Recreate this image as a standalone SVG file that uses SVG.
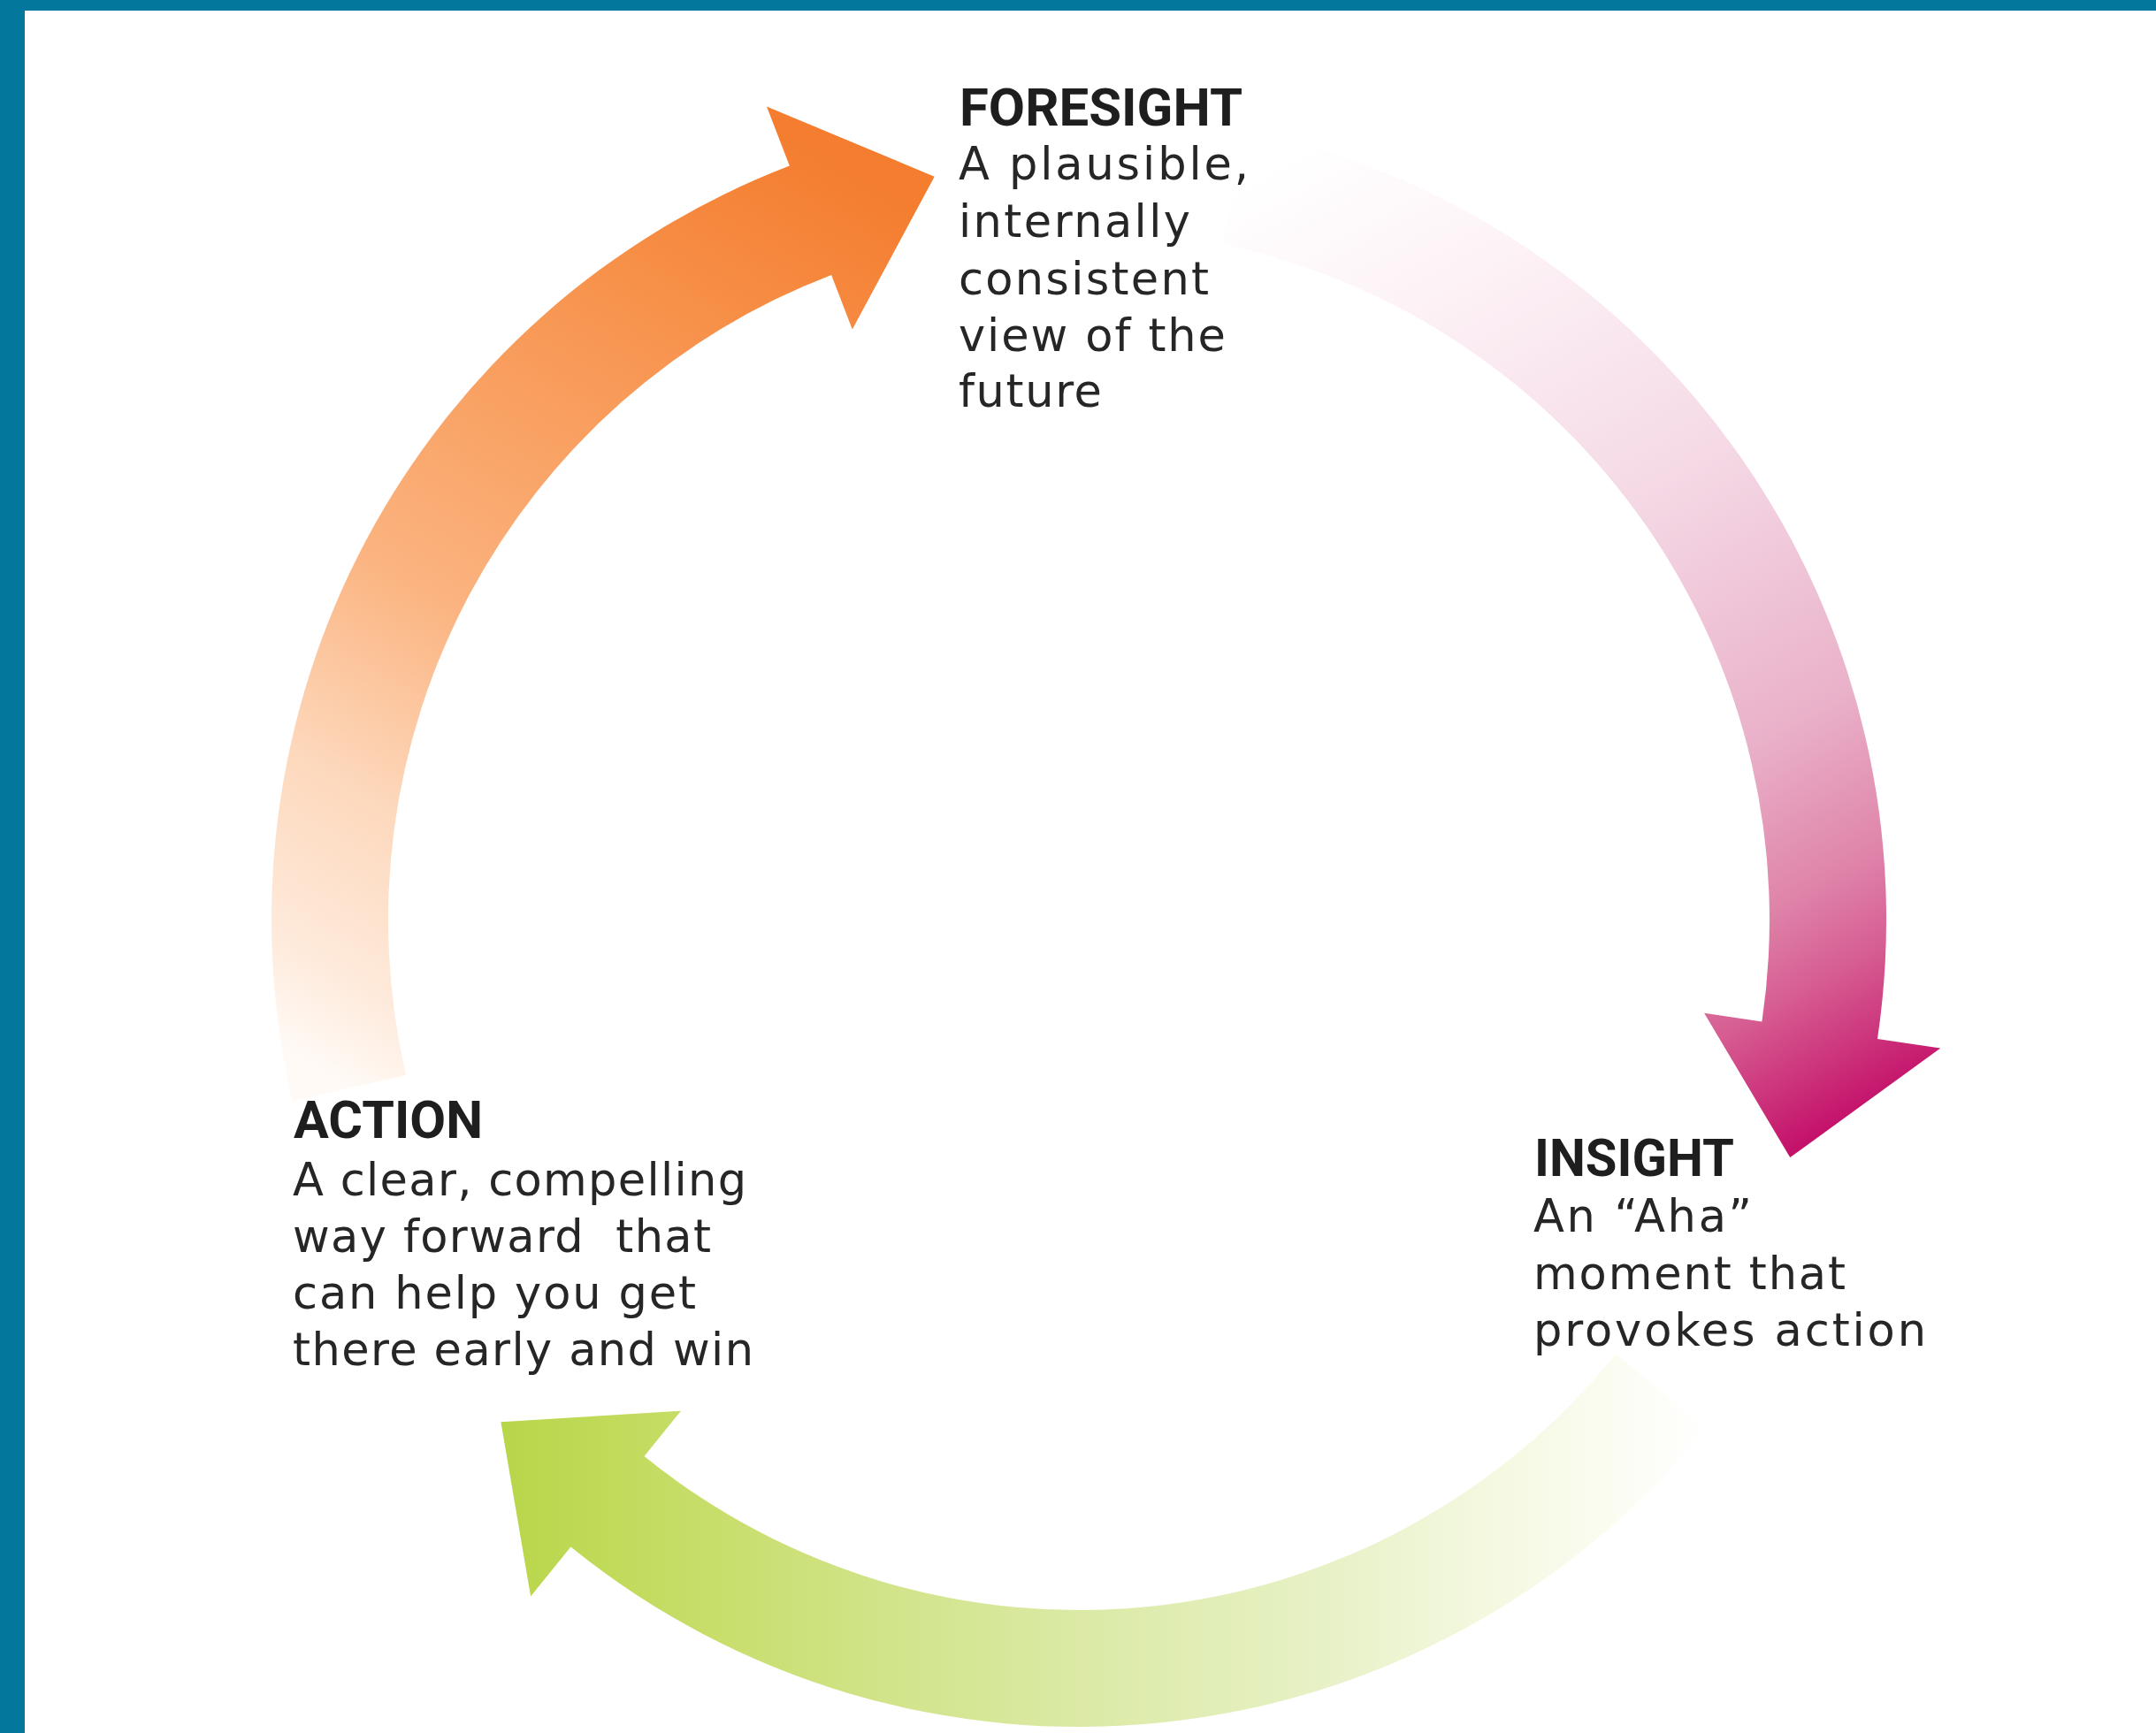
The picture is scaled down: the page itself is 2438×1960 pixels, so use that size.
<svg xmlns="http://www.w3.org/2000/svg" width="2438" height="1960" viewBox="0 0 2438 1960">
  <defs>
    <style>
      .title { font-family: Roboto, "Liberation Sans", Arial, sans-serif; font-weight: 700; font-size: 60px; fill: #1e1e1e; }
      .body { font-family: "DejaVu Sans", "Open Sans", sans-serif; font-weight: 400; font-size: 51px; fill: #262626; }
    </style>
    <linearGradient id="gOrange" gradientUnits="userSpaceOnUse" x1="395" y1="1230" x2="1000" y2="215">
      <stop offset="0" stop-color="#FFFAF6"/>
      <stop offset="0.09" stop-color="#FEEADB"/>
      <stop offset="0.25" stop-color="#FDD8BC"/>
      <stop offset="0.45" stop-color="#FBB37F"/>
      <stop offset="0.8" stop-color="#F7914A"/>
      <stop offset="1" stop-color="#F47D2F"/>
    </linearGradient>
    <linearGradient id="gPink" gradientUnits="userSpaceOnUse" x1="1420" y1="200" x2="2030" y2="1300">
      <stop offset="0" stop-color="#FFFFFF"/>
      <stop offset="0.16" stop-color="#FDF3F7"/>
      <stop offset="0.41" stop-color="#F5DAE6"/>
      <stop offset="0.66" stop-color="#EAB2CA"/>
      <stop offset="0.8" stop-color="#DF84AA"/>
      <stop offset="0.88" stop-color="#D65C91"/>
      <stop offset="1" stop-color="#C4116A"/>
    </linearGradient>
    <linearGradient id="gGreen" gradientUnits="userSpaceOnUse" x1="1930" y1="1700" x2="570" y2="1700">
      <stop offset="0" stop-color="#FFFFFF"/>
      <stop offset="0.17" stop-color="#F5F9E2"/>
      <stop offset="0.32" stop-color="#E7F1C6"/>
      <stop offset="0.54" stop-color="#DAE9A2"/>
      <stop offset="0.68" stop-color="#D1E48A"/>
      <stop offset="0.9" stop-color="#C2DB5C"/>
      <stop offset="1" stop-color="#B8D64A"/>
    </linearGradient>
  </defs>

  <rect x="0" y="0" width="2438" height="1960" fill="#FFFFFF"/>
  <g id="frame" fill="#04789C">
    <rect x="0" y="0" width="2438" height="12"/>
    <rect x="0" y="0" width="28" height="1960"/>
  </g>

  <g id="connectors">
    <path id="arrow-action-foresight" fill="url(#gOrange)" d="M330.4,1245.4 A913,913 0 0 1 892.8,187.6 L867.0,120.4 L1056.7,199.7 L963.8,372.5 L940.1,310.9 A781,781 0 0 0 459.0,1215.7 Z"/>
    <path id="arrow-foresight-insight" fill="url(#gPink)" d="M1409.8,147.0 A913,913 0 0 1 2123.0,1175.0 L2194.2,1185.6 L2024.2,1309.1 L1927.1,1145.7 L1992.4,1155.4 A781,781 0 0 0 1382.4,276.1 Z"/>
    <path id="arrow-insight-action" fill="url(#gGreen)" d="M1929.5,1614.6 A913,913 0 0 1 645.4,1749.5 L600.1,1805.5 L566.4,1608.2 L770.0,1595.7 L728.5,1647.0 A781,781 0 0 0 1827.0,1531.5 Z"/>
  </g>

  <g id="foresight">
    <text class="title" x="1085" y="142" textLength="320" lengthAdjust="spacingAndGlyphs">FORESIGHT</text>
    <text class="body" x="1084" y="203" textLength="328" lengthAdjust="spacing">A plausible,</text>
    <text class="body" x="1084" y="268" textLength="262" lengthAdjust="spacing">internally</text>
    <text class="body" x="1084" y="333" textLength="283" lengthAdjust="spacing">consistent</text>
    <text class="body" x="1084" y="397" textLength="302" lengthAdjust="spacing">view of the</text>
    <text class="body" x="1084" y="460" textLength="162" lengthAdjust="spacing">future</text>
  </g>

  <g id="action">
    <text class="title" x="332" y="1287" textLength="214" lengthAdjust="spacingAndGlyphs">ACTION</text>
    <text class="body" x="331" y="1352" textLength="513" lengthAdjust="spacing">A clear, compelling</text>
    <text class="body" x="331" y="1416" textLength="473" lengthAdjust="spacing" xml:space="preserve">way forward  that</text>
    <text class="body" x="331" y="1480" textLength="456" lengthAdjust="spacing">can help you get</text>
    <text class="body" x="331" y="1544" textLength="521" lengthAdjust="spacing">there early and win</text>
  </g>

  <g id="insight">
    <text class="title" x="1735" y="1330" textLength="226" lengthAdjust="spacingAndGlyphs">INSIGHT</text>
    <text class="body" x="1734" y="1393" textLength="247" lengthAdjust="spacing">An “Aha”</text>
    <text class="body" x="1734" y="1458" textLength="353" lengthAdjust="spacing">moment that</text>
    <text class="body" x="1734" y="1522" textLength="444" lengthAdjust="spacing">provokes action</text>
  </g>
</svg>
